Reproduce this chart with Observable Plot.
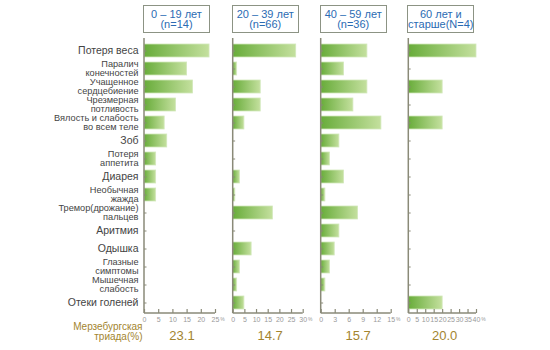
<!DOCTYPE html>
<html><head><meta charset="utf-8">
<script src="https://cdn.jsdelivr.net/npm/d3@7"></script>
<script src="https://cdn.jsdelivr.net/npm/@observablehq/plot@0.6"></script>
<style>
body{margin:0;background:#fff;}
#chart{position:relative;width:550px;height:350px;font-family:"Liberation Sans",Arial,sans-serif;}
#chart svg{position:absolute;left:0;top:0;}
.hdr{position:absolute;top:5px;height:28px;border:1.5px solid #8c9384;box-sizing:border-box;background:#fff;color:#2b6bb3;font-size:11px;line-height:10.5px;text-align:center;display:flex;align-items:center;justify-content:center;white-space:pre;}
</style></head><body><div id="chart"></div>
<script>
const symptoms = ["Потеря веса","Паралич\nконечностей","Учащенное\nсердцебиение","Чрезмерная\nпотливость","Вялость и слабость\nво всем теле","Зоб","Потеря\nаппетита","Диарея","Необычная\nжажда","Тремор(дрожание)\nпальцев","Аритмия","Одышка","Глазные\nсимптомы","Мышечная\nслабость","Отеки голеней"];
const groups = ["0 – 19 лет\n(n=14)", "20 – 39 лет\n(n=66)", "40 – 59 лет\n(n=36)", "60 лет и\nстарше(N=4)"];
const values0 = [22.9, 15.0, 17.1, 11.1, 7.1, 8.0, 4.1, 4.1, 4.1, 0, 0, 0, 0, 0, 0];
const values1 = [27.0, 1.7, 11.8, 11.8, 4.8, 0, 0, 2.9, 0.9, 17.0, 0, 7.9, 2.9, 1.7, 4.8];
const values2 = [9.9, 4.9, 9.9, 6.9, 12.9, 3.9, 1.9, 4.9, 0.9, 7.9, 3.9, 2.9, 1.9, 0.9, 0];
const values3 = [40, 0, 20, 0, 20, 0, 0, 0, 0, 0, 0, 0, 0, 0, 20];
const axisMax = [25, 30, 15, 40];
const ticks0 = [0, 5, 10, 15, 20, 25];
const ticks1 = [0, 5, 10, 15, 20, 25, 30];
const ticks2 = [0, 3, 6, 9, 12, 15];
const ticks3 = [0, 5, 10, 15, 20, 25, 30, 35, 40];
const triad = ["23.1", "14.7", "15.7", "20.0"];
const triadLabel = "Мерзебургская\nтриада(%)";

const series = [values0, values1, values2, values3];
const tickSets = [ticks0, ticks1, ticks2, ticks3];
const panelLeft = [144, 232.7, 320.7, 408.3];
const panelWidth = [71, 70, 70, 67.7];
const W = 550, H = 350, MT = 39, MB = 37;
const axisColor = "#8a8a78";
const chart = document.getElementById("chart");

function lineMark(max) {
  return function(...args) {
    let scales, dims;
    if (args.length >= 4) { scales = args[1]; dims = args[3]; } else { scales = args[0]; dims = args[1]; }
    const g = d3.create("svg:g").attr("stroke", axisColor).attr("stroke-width", 1.5).attr("fill", "none");
    const yb = dims.height - dims.marginBottom;
    g.append("line").attr("x1", scales.x(0)).attr("x2", scales.x(0)).attr("y1", dims.marginTop - 1).attr("y2", yb);
    g.append("line").attr("x1", scales.x(0)).attr("x2", scales.x(max)).attr("y1", yb).attr("y2", yb);
    return g.node();
  };
}
function gradMark(id) {
  return function() {
    const defs = d3.create("svg:defs");
    const lg = defs.append("linearGradient").attr("id", id).attr("x1", "0").attr("x2", "1").attr("y1", "0").attr("y2", "0");
    lg.append("stop").attr("offset", "0").attr("stop-color", "#68ac3a");
    lg.append("stop").attr("offset", "1").attr("stop-color", "#c4e09e");
    return defs.node();
  };
}

series.forEach((vals, k) => {
  const data = symptoms.map((s, i) => ({s, v: vals[i]})).filter(d => d.v > 0);
  const max = axisMax[k];
  const x0 = panelLeft[k], x1 = x0 + panelWidth[k];
  const gid = "grad" + k;
  const frameH = H - MT - MB;
  const marks = [
    gradMark(gid),
    Plot.barX(data, {x: "v", y: "s", fill: `url(#${gid})`, stroke: "#d2e8bb", strokeWidth: 0.8}),
    Plot.ruleY(symptoms, {y: d => d, x1: 0, x2: max * 0.035, stroke: axisColor, strokeWidth: 1}),
    Plot.tickX(tickSets[k], {x: d => d, insetTop: frameH - 4, stroke: axisColor, strokeWidth: 1.2}),
    lineMark(max),
    Plot.axisX({ticks: tickSets[k], tickSize: 0, tickPadding: 4, fontSize: 7, fill: "#999", label: null, tickFormat: d => String(d)}),
    Plot.text([max], {x: d => d, text: () => "%", frameAnchor: "bottom", dy: 7, dx: 7, fontSize: 5, fill: "#999"}),
    Plot.text([triad[k]], {x: () => max / 2, frameAnchor: "bottom", dy: 26, dx: 2, fontSize: 13, fill: "#a3852f"})
  ];
  if (k === 0) {
    marks.push(Plot.text(symptoms, {y: d => d, text: d => d, frameAnchor: "left", textAnchor: "end", dx: -6,
      fontSize: d => d.includes("\n") ? 9.2 : 10.5, lineHeight: 0.92, fill: "#444"}));
    marks.push(Plot.text([triadLabel], {frameAnchor: "bottom-left", textAnchor: "end", dx: -2, dy: 26,
      fontSize: 10, lineHeight: 1.0, fill: "#a3852f"}));
  }
  const svg = Plot.plot({
    width: W, height: H,
    marginLeft: x0, marginRight: W - x1, marginTop: MT, marginBottom: MB,
    x: {domain: [0, max], axis: null},
    y: {domain: symptoms, paddingInner: 0.3, paddingOuter: 0, axis: null},
    style: {background: "transparent", fontFamily: "'Liberation Sans', Arial, sans-serif", overflow: "visible"},
    marks
  });
  chart.appendChild(svg);
  const h = document.createElement("div");
  h.className = "hdr";
  h.style.left = (x0 - 1) + "px";
  h.style.width = "67px";
  h.textContent = groups[k];
  chart.appendChild(h);
});
</script></body></html>
